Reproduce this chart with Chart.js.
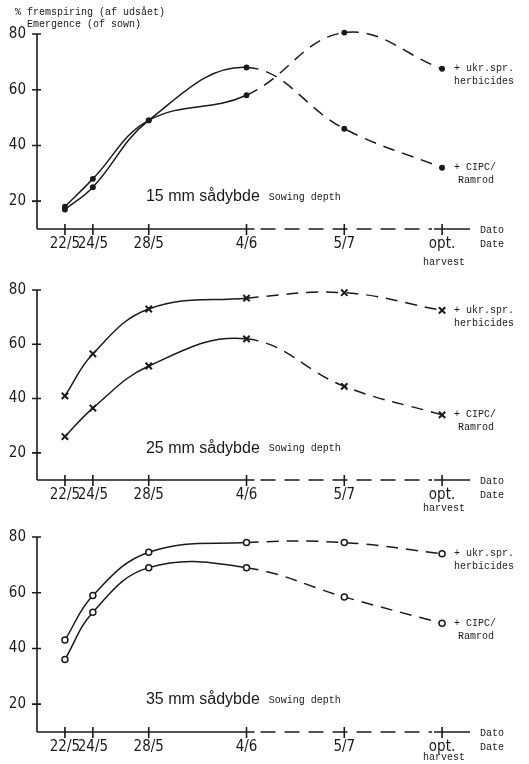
<!DOCTYPE html>
<html lang="en">

<head>
  <meta charset="UTF-8" />
  <script src="https://cdn.jsdelivr.net/npm/chart.js"></script>
  <title>Fremspiring</title>
  <style>
    * {
      padding: 0;
      margin: 0;
    }

    body {
      background-color: #ffffff;
      width: 529px;
      height: 764px;
      position: relative;
      overflow: hidden;
    }

    canvas {
      position: absolute;
      left: 0;
    }
  </style>
</head>

<body>
  <canvas id="panel15" width="529" height="270" style="top:0px"></canvas>
  <canvas id="panel25" width="529" height="245" style="top:270px"></canvas>
  <canvas id="panel35" width="529" height="249" style="top:515px"></canvas>
</body>

<script>
  // x positions: days after 22/5 up to 4/6, then compressed spacing
  const xPos = [0, 2, 6, 13, 20, 27];
  const xLabels = ['22/5', '24/5', '28/5', '4/6', '5/7', 'opt.'];
  const yTicks = [20, 40, 60, 80];

  // 15 mm
  const ukr15 = [18, 28, 49, 58, 80.5, 67.5];
  const cipc15 = [17, 25, 49, 68, 46, 32];
  // 25 mm
  const ukr25 = [41, 56.5, 73, 77, 79, 72.5];
  const cipc25 = [26, 36.5, 52, 62, 44.5, 34];
  // 35 mm
  const ukr35 = [43, 59, 74.5, 78, 78, 74];
  const cipc35 = [36, 53, 69, 69, 58.5, 49];

  const ink = '#1a1a1a';
  const mono = '"Liberation Mono", "DejaVu Sans Mono", monospace';
  const sans = '"Liberation Sans", Arial, sans-serif';
  const narrow = '"Liberation Sans Narrow", "DejaVu Sans Condensed", "Liberation Sans", sans-serif';

  function toPoints(values) {
    return values.map((v, i) => ({ x: xPos[i], y: v }));
  }

  // Hand drawn style axes and notes
  const decorations = {
    id: 'decorations',
    afterDraw(chart, args, opts) {
      const ctx = chart.ctx;
      const x = chart.scales.x;
      const y = chart.scales.y;
      const area = chart.chartArea;
      const base = area.bottom;
      ctx.save();
      ctx.strokeStyle = ink;
      ctx.fillStyle = ink;
      ctx.lineWidth = 1.6;

      // y axis with crossing ticks
      ctx.beginPath();
      ctx.moveTo(area.left, base);
      ctx.lineTo(area.left, y.getPixelForValue(80));
      yTicks.forEach(v => {
        const py = y.getPixelForValue(v);
        ctx.moveTo(area.left - 5, py);
        ctx.lineTo(area.left + 4, py);
      });
      ctx.stroke();

      // x axis: solid, dashed after 4/6, solid again at opt.
      const p46 = x.getPixelForValue(xPos[3]);
      const pOpt = x.getPixelForValue(xPos[5]);
      ctx.beginPath();
      ctx.moveTo(area.left, base);
      ctx.lineTo(p46 + 8, base);
      ctx.moveTo(pOpt - 8, base);
      ctx.lineTo(area.right, base);
      xPos.forEach(v => {
        const px = x.getPixelForValue(v);
        ctx.moveTo(px, base - 5);
        ctx.lineTo(px, base + 6);
      });
      ctx.stroke();
      ctx.setLineDash([15, 9]);
      ctx.beginPath();
      ctx.moveTo(p46 + 14, base);
      ctx.lineTo(pOpt - 10, base);
      ctx.stroke();
      ctx.setLineDash([]);

      // series notes at the right
      ctx.font = '10px ' + mono;
      ctx.textBaseline = 'middle';
      ctx.textAlign = 'left';
      const lx = pOpt + 12;
      const uy = y.getPixelForValue(opts.ukrEnd);
      const cy = y.getPixelForValue(opts.cipcEnd);
      ctx.fillText('+ ukr.spr.', lx, uy);
      ctx.fillText('herbicides', lx, uy + 13);
      ctx.fillText('+ CIPC/', lx, cy);
      ctx.fillText('Ramrod', lx + 4, cy + 13);

      // Dato / Date, harvest
      ctx.fillText('Dato', area.right + 10, base + 1);
      ctx.fillText('Date', area.right + 10, base + 15);
      ctx.textAlign = 'center';
      ctx.fillText('harvest', pOpt + 2, base + opts.harvestGap);

      // depth caption
      ctx.textAlign = 'left';
      const tx = x.getPixelForValue(5.8);
      const ty = y.getPixelForValue(21.5);
      ctx.font = '16px ' + sans;
      const big = opts.depth + ' mm sådybde';
      ctx.fillText(big, tx, ty);
      const w = ctx.measureText(big).width;
      ctx.font = '10px ' + mono;
      ctx.fillText('Sowing depth', tx + w + 9, ty);

      // y title on the top panel only
      if (opts.title) {
        ctx.fillText('% fremspiring (af udsået)', 15, 12);
        ctx.fillText('Emergence (of sown)', 27, 24);
      }
      ctx.restore();
    }
  };

  function makeChart(id, ukr, cipc, marker, notes, top, bottom) {
    const canvas = document.getElementById(id);
    const dash = ctx => ctx.p0DataIndex >= 3 ? [12, 8] : undefined;
    const series = (data) => ({
      data: toPoints(data),
      borderColor: ink,
      borderWidth: 1.5,
      backgroundColor: marker.fill,
      pointStyle: marker.style,
      pointRadius: marker.radius,
      pointBorderColor: ink,
      pointBorderWidth: marker.width,
      tension: 0.4,
      clip: false,
      segment: { borderDash: dash }
    });
    return new Chart(canvas, {
      type: 'line',
      data: { datasets: [series(ukr), series(cipc)] },
      options: {
        responsive: false,
        animation: false,
        layout: { padding: { top: top, right: 59, left: 0, bottom: 0 } },
        scales: {
          x: {
            type: 'linear',
            min: -2,
            max: 29,
            grid: { display: false, drawTicks: false },
            border: { display: false },
            afterFit: scale => { scale.height = canvas.height - bottom; },
            afterBuildTicks: scale => { scale.ticks = xPos.map(v => ({ value: v })); },
            ticks: {
              color: ink,
              padding: 6,
              maxRotation: 0,
              autoSkip: false,
              font: { family: narrow, size: 15 },
              callback: (value) => xLabels[xPos.indexOf(value)]
            }
          },
          y: {
            min: 10,
            max: 80,
            grid: { display: false, drawTicks: false },
            border: { display: false },
            afterFit: scale => { scale.width = 37; },
            afterBuildTicks: scale => { scale.ticks = yTicks.map(v => ({ value: v })); },
            ticks: {
              color: ink,
              padding: 11,
              font: { family: narrow, size: 15 }
            }
          }
        },
        plugins: {
          legend: { display: false },
          tooltip: { enabled: false },
          decorations: notes
        }
      },
      plugins: [decorations]
    });
  }

  makeChart('panel15', ukr15, cipc15,
    { style: 'circle', radius: 2.2, fill: ink, width: 1.5 },
    { ukrEnd: ukr15[5], cipcEnd: cipc15[5], depth: 15, title: true, harvestGap: 33 },
    34, 229);

  makeChart('panel25', ukr25, cipc25,
    { style: 'crossRot', radius: 4.5, fill: ink, width: 2 },
    { ukrEnd: ukr25[5], cipcEnd: cipc25[5], depth: 25, title: false, harvestGap: 28 },
    17, 210);

  makeChart('panel35', ukr35, cipc35,
    { style: 'circle', radius: 3, fill: '#ffffff', width: 1.5 },
    { ukrEnd: ukr35[5], cipcEnd: cipc35[5], depth: 35, title: false, harvestGap: 25 },
    22, 217);
</script>

</html>
